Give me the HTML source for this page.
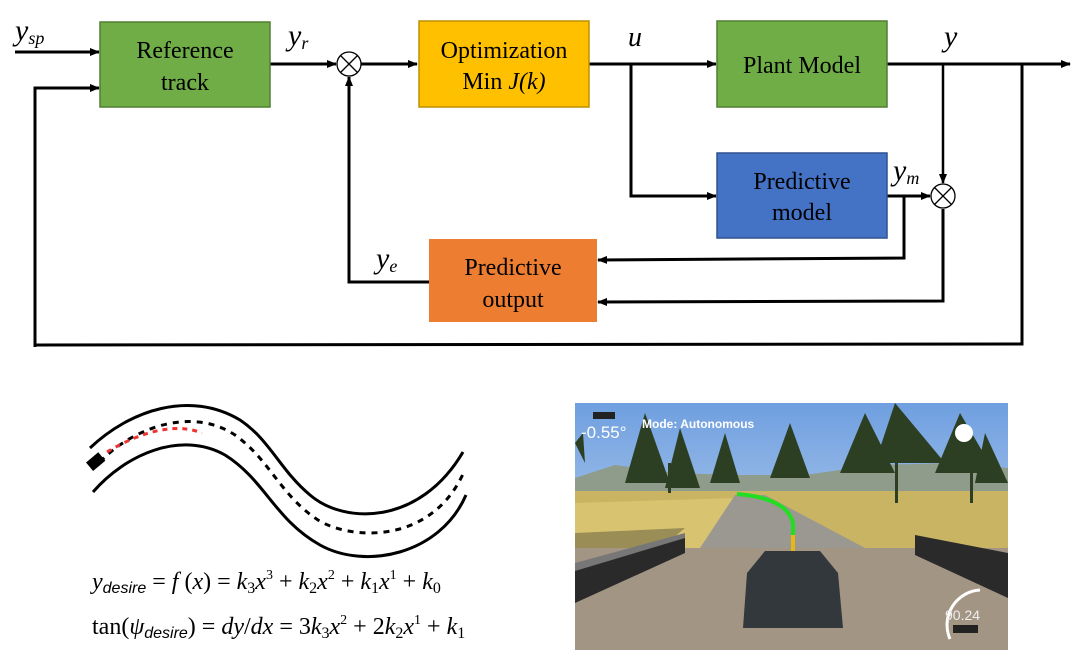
<!DOCTYPE html>
<html><head><meta charset="utf-8"><style>
html,body{margin:0;padding:0;background:#fff;}
svg{display:block}
.s{font-family:"Liberation Serif",serif;}
.ss{font-family:"Liberation Sans",sans-serif;}
</style></head><body>
<svg width="1083" height="670" viewBox="0 0 1083 670" xmlns="http://www.w3.org/2000/svg">
<defs>
<marker id="a" markerWidth="10" markerHeight="8" refX="9" refY="4" orient="auto" markerUnits="userSpaceOnUse"><path d="M0,0 L10,4 L0,8 Z" fill="#000"/></marker>
<linearGradient id="sky" x1="0" y1="0" x2="0" y2="1"><stop offset="0" stop-color="#6f9fe0"/><stop offset="1" stop-color="#d6e4f2"/></linearGradient>
</defs>
<g stroke="#000" stroke-width="3" fill="none">
<line x1="15" y1="52" x2="99" y2="52" marker-end="url(#a)"/>
<polyline points="35,347 35,88 99,88" marker-end="url(#a)"/>
<line x1="270" y1="64" x2="336" y2="64" marker-end="url(#a)"/>
<line x1="361" y1="64" x2="417" y2="64" marker-end="url(#a)"/>
<polyline points="429,282 349,282 349,77" marker-end="url(#a)"/>
<line x1="589" y1="64" x2="716" y2="64" marker-end="url(#a)"/>
<polyline points="631,64 631,196 716,196" marker-end="url(#a)"/>
<line x1="887" y1="64" x2="1070" y2="64" marker-end="url(#a)"/>
<polyline points="943,64 943,183" marker-end="url(#a)" stroke-width="2.5"/>
<line x1="887" y1="196" x2="930" y2="196" marker-end="url(#a)"/>
<polyline points="904,196 904,258 598,260" marker-end="url(#a)"/>
<polyline points="943,209 943,301 598,302" marker-end="url(#a)"/>
<polyline points="1022,64 1022,344 35,345"/>
</g>
<g stroke="#000" stroke-width="1.3" fill="#fff">
<circle cx="349" cy="64" r="12"/><path d="M340.5,55.5 L357.5,72.5 M357.5,55.5 L340.5,72.5"/>
<circle cx="943" cy="196" r="12"/><path d="M934.5,187.5 L951.5,204.5 M951.5,187.5 L934.5,204.5"/>
</g>
<rect x="100" y="22" width="170" height="85" fill="#70AD47" stroke="#507E32" stroke-width="1.5"/>
<rect x="419" y="21" width="170" height="86" fill="#FFC000" stroke="#BF9000" stroke-width="1.5"/>
<rect x="717" y="21" width="170" height="86" fill="#70AD47" stroke="#507E32" stroke-width="1.5"/>
<rect x="717" y="153" width="170" height="85" fill="#4472C4" stroke="#2F528F" stroke-width="1.5"/>
<rect x="429" y="239" width="168" height="83" fill="#ED7D31"/>
<g class="s" font-size="24" text-anchor="middle" fill="#000">
<text x="185" y="58">Reference</text><text x="185" y="90">track</text>
<text x="504" y="58">Optimization</text><text x="504" y="89">Min <tspan font-style="italic">J(k)</tspan></text>
<text x="802" y="73">Plant Model</text>
<text x="802" y="189">Predictive</text><text x="802" y="220">model</text>
<text x="513" y="275">Predictive</text><text x="513" y="307">output</text>
</g>
<g class="s" font-style="italic" fill="#000">
<text x="15" y="40" font-size="30">y<tspan font-size="18" dy="4">sp</tspan></text>
<text x="288" y="45" font-size="30">y<tspan font-size="18" dy="4">r</tspan></text>
<text x="628" y="46" font-size="28">u</text>
<text x="944" y="46" font-size="30">y</text>
<text x="893" y="180" font-size="30">y<tspan font-size="18" dy="4">m</tspan></text>
<text x="376" y="268" font-size="30">y<tspan font-size="18" dy="4">e</tspan></text>
</g>
<g fill="none" stroke="#000" stroke-width="3">
<path d="M90,448 C130,410 190,390 240,420 C270,440 280,470 310,495 C345,525 420,525 463,452"/>
<path d="M93,492 C125,455 180,430 225,455 C265,480 275,520 320,545 C365,570 440,555 466,495"/>
<path d="M100,462 C130,430 190,405 235,435 C270,460 280,495 318,520 C350,540 430,545 463,474" stroke-dasharray="6,6"/>
<path d="M107,452 C130,438 170,420 202,433" stroke="#e33" stroke-dasharray="5,5"/>
</g>
<rect x="88" y="456" width="16" height="11" fill="#000" transform="rotate(-40 96 462)"/>
<g class="s" font-size="24" fill="#000">
<text x="92" y="589"><tspan font-style="italic">y</tspan><tspan font-size="16" font-style="italic" class="ss" dy="4">desire</tspan><tspan dy="-4"> = </tspan><tspan font-style="italic">f</tspan> (<tspan font-style="italic">x</tspan>) = <tspan font-style="italic">k</tspan><tspan font-size="16" dy="4">3</tspan><tspan font-style="italic" dy="-4">x</tspan><tspan font-size="14" dy="-10">3</tspan><tspan dy="10"> + </tspan><tspan font-style="italic">k</tspan><tspan font-size="16" dy="4">2</tspan><tspan font-style="italic" dy="-4">x</tspan><tspan font-size="14" dy="-10">2</tspan><tspan dy="10"> + </tspan><tspan font-style="italic">k</tspan><tspan font-size="16" dy="4">1</tspan><tspan font-style="italic" dy="-4">x</tspan><tspan font-size="14" dy="-10">1</tspan><tspan dy="10"> + </tspan><tspan font-style="italic">k</tspan><tspan font-size="16" dy="4">0</tspan></text>
<text x="92" y="634">tan(<tspan font-style="italic">ψ</tspan><tspan font-size="16" font-style="italic" class="ss" dy="4">desire</tspan><tspan dy="-4">) = </tspan><tspan font-style="italic">dy</tspan>/<tspan font-style="italic">dx</tspan> = 3<tspan font-style="italic">k</tspan><tspan font-size="16" dy="4">3</tspan><tspan font-style="italic" dy="-4">x</tspan><tspan font-size="14" dy="-10">2</tspan><tspan dy="10"> + 2</tspan><tspan font-style="italic">k</tspan><tspan font-size="16" dy="4">2</tspan><tspan font-style="italic" dy="-4">x</tspan><tspan font-size="14" dy="-10">1</tspan><tspan dy="10"> + </tspan><tspan font-style="italic">k</tspan><tspan font-size="16" dy="4">1</tspan></text>
</g>
<svg x="575" y="403" width="433" height="247" viewBox="0 0 433 247">
<rect width="433" height="247" fill="url(#sky)"/>
<path d="M0,75 L40,62 L100,70 L160,72 L230,72 L300,62 L380,60 L433,65 L433,100 L0,100Z" fill="#8f9c8c"/>
<rect y="88" width="433" height="70" fill="#c9b463"/>
<path d="M0,100 L160,95 L170,150 L0,160Z" fill="#d8c470"/>
<path d="M0,130 L110,125 L80,150 L0,180Z" fill="#9a8d55"/>
<path d="M160,92 L190,92 L290,145 L125,145Z" fill="#9a9890"/>
<path d="M0,145 L433,145 L433,247 L0,247Z" fill="#a39584"/>
<path d="M0,165 L110,132 L110,150 L0,200Z" fill="#2a2a2a"/>
<path d="M0,160 L110,130 L110,135 L0,168Z" fill="#777"/>
<path d="M340,132 L433,150 L433,195 L340,152Z" fill="#2a2a2a"/>
<path d="M162,91 Q212,95 218,120 L218,138" stroke="#22dd22" stroke-width="4" fill="none"/>
<path d="M218,132 L218,148" stroke="#e5b818" stroke-width="4"/>
<path d="M172,170 L190,148 L245,148 L263,170 L268,225 L168,225Z" fill="#33383d"/>
<g fill="#2d3f22">
<path d="M0,40 L8,30 L10,60 Z"/><path d="M70,10 L95,80 L50,80Z"/><path d="M105,25 L125,85 L90,85Z"/><path d="M215,20 L235,75 L195,75Z"/><path d="M290,10 L320,70 L265,70Z"/><path d="M320,0 L370,60 L300,60Z"/><path d="M385,10 L420,70 L360,70Z"/><path d="M410,30 L433,80 L400,80Z"/><path d="M150,30 L165,80 L135,80Z"/>
<rect x="93" y="60" width="3" height="30"/><rect x="320" y="50" width="3" height="50"/><rect x="395" y="40" width="3" height="60"/>
</g>
<circle cx="389" cy="30" r="9" fill="#fff"/>
<path d="M375,236 A35,35 0 0 1 405,187" stroke="#fff" stroke-width="3" fill="none"/>
<text x="6" y="35" class="ss" font-size="17" fill="#fff">-0.55°</text>
<text x="67" y="25" class="ss" font-size="12" font-weight="bold" fill="#fff">Mode: Autonomous</text>
<rect x="18" y="9" width="22" height="7" fill="#222"/>
<text x="370" y="217" class="ss" font-size="14" fill="#eee">90.24</text>
<rect x="378" y="222" width="25" height="8" fill="#222"/>
</svg>
</svg>
</body></html>
